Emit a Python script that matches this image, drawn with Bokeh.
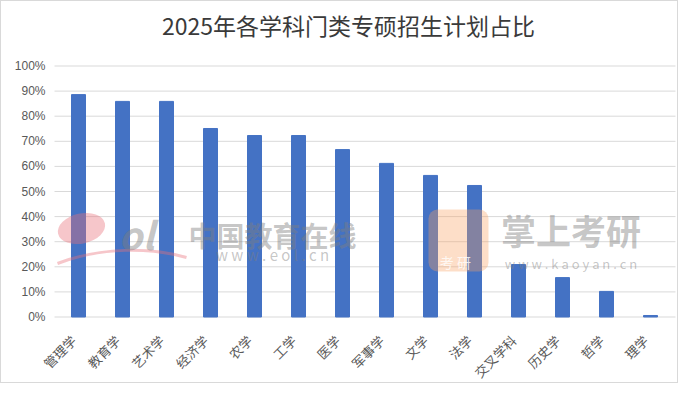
import math
from bokeh.plotting import figure
from bokeh.models import Range1d, Label, BoxAnnotation
from bokeh.core.properties import value
from bokeh.embed import file_html
from bokeh.resources import INLINE

categories = ["管理学", "教育学", "艺术学", "经济学", "农学", "工学", "医学",
              "军事学", "文学", "法学", "交叉学科", "历史学", "哲学", "理学"]
shares = [0.886, 0.859, 0.859, 0.751, 0.723, 0.723, 0.667,
          0.612, 0.564, 0.524, 0.209, 0.157, 0.102, 0.006]
y_ticks = [0.0, 0.1, 0.2, 0.3, 0.4, 0.5, 0.6, 0.7, 0.8, 0.9, 1.0]
y_tick_labels = ["0%", "10%", "20%", "30%", "40%", "50%", "60%", "70%",
                 "80%", "90%", "100%"]
title_text = "2025年各学科门类专硕招生计划占比"

W, H = 678, 383
# plot area in pixels: x 55..671 (44 px per category), y 64.5 (100%) .. 315.5 (0%)
FL, CAT, FB, FT = 55.0, 44.0, 315.5, 64.5
YU = FB - FT
n = len(categories)
xs = list(range(n))


def px(xp):
    return (xp - FL) / CAT - 0.5


def py(yp):
    return (FB - yp) / YU


p = figure(width=W, height=H, output_backend="svg", toolbar_location=None,
           x_range=Range1d(px(0), px(W)), y_range=Range1d(py(H), py(0)),
           min_border=0)
p.styles = {"border": "1px solid #d9d9d9", "box-sizing": "border-box"}
p.outline_line_color = None
p.background_fill_color = "white"
p.border_fill_color = "white"
p.xaxis.visible = False
p.yaxis.visible = False
p.xgrid.visible = False
p.ygrid.visible = False

# grid lines (the 0% one doubles as the category axis line)
p.segment(x0=[-0.5 - 2 / CAT] * len(y_ticks), x1=[n - 0.5 + 3 / CAT] * len(y_ticks),
          y0=y_ticks, y1=y_ticks, line_color="#d9d9d9", line_width=1)

p.vbar(x=xs, top=shares, width=14 / CAT, color="#4472C4")

# y tick labels
p.text(x=[-0.5] * len(y_ticks), y=y_ticks, text=y_tick_labels,
       x_offset=-11, text_align="right", text_baseline="middle",
       text_font=value("Liberation Sans"), text_font_size="12px",
       text_color="#595959")

# category labels, rotated 45 degrees
p.text(x=xs, y=[0] * n, text=categories, angle=math.pi / 4,
       x_offset=-5, y_offset=21, text_align="right", text_baseline="middle",
       text_font=value("Noto Sans CJK SC"), text_font_size="13px",
       text_color="#595959")

# title
p.text(x=[px(347)], y=[py(23)], text=[title_text], text_align="center",
       text_baseline="middle", text_font=value("Noto Sans CJK SC"),
       text_font_size="23px", text_color="#3a3a3a")

# --- watermarks (semi-transparent, drawn over the bars) ---
p.ellipse(x=[px(80)], y=[py(227)], width=[48], height=[30], angle=[0.22],
          width_units="screen", height_units="screen",
          fill_color="#e8707a", fill_alpha=0.4, line_color=None)
p.bezier(x0=[px(56)], y0=[py(262)], x1=[px(185)], y1=[py(256)],
         cx0=[px(100)], cy0=[py(245)], cx1=[px(150)], cy1=[py(246)],
         line_color="#e8707a", line_alpha=0.4, line_width=3)

wm_gray = "#7f7f7f"
for txt, xp_, yp_, size, style in [
        ("ol", 135, 232, "38px", "bold italic"),
        ("中国教育在线", 271, 233, "28px", "bold"),
        ("w w w . e o l . c n", 271, 253, "15px", "normal"),
        ("掌上考研", 569.5, 228, "35px", "bold"),
        ("w w w . k a o y a n . c n", 569.5, 262, "13px", "normal")]:
    p.add_layout(Label(x=px(xp_), y=py(yp_), text=txt, text_align="center",
                       text_baseline="middle", text_font="Noto Sans CJK SC",
                       text_font_size=size, text_font_style=style,
                       text_color=wm_gray, text_alpha=0.45))

p.add_layout(BoxAnnotation(left=px(427), right=px(487), top=py(208),
                           bottom=py(270), border_radius=9,
                           fill_color="#f9a060", fill_alpha=0.35,
                           line_color=None))
p.add_layout(Label(x=px(457), y=py(260), text="考   研", text_align="center",
                   text_baseline="middle", text_font="Noto Sans CJK SC",
                   text_font_size="14px", text_color="white", text_alpha=0.8))

open("out.html", "w").write(file_html(p, INLINE))
